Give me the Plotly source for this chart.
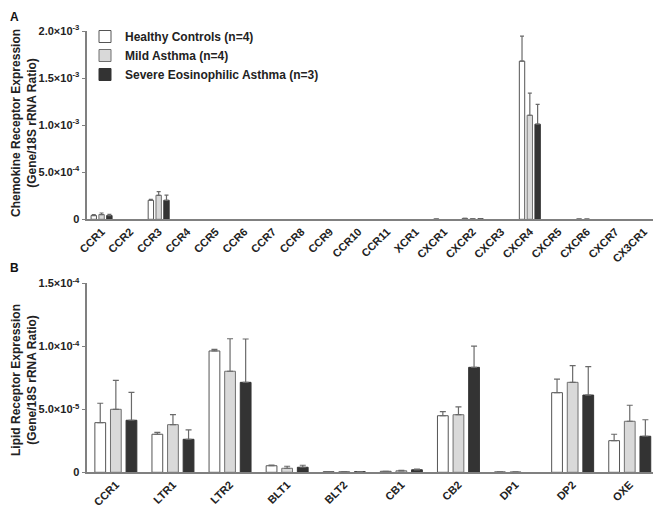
import plotly.graph_objects as go

# ---------------- data ----------------
groups = ["Healthy Controls (n=4)", "Mild Asthma (n=4)", "Severe Eosinophilic Asthma (n=3)"]

chemo_cats = ["CCR1", "CCR2", "CCR3", "CCR4", "CCR5", "CCR6", "CCR7", "CCR8", "CCR9", "CCR10",
              "CCR11", "XCR1", "CXCR1", "CXCR2", "CXCR3", "CXCR4", "CXCR5", "CXCR6", "CXCR7", "CX3CR1"]
chemo_healthy = [4.0e-5, 0, 2.02e-4, 0, 0, 0, 0, 0, 0, 0, 0, 0, 3e-6, 1.0e-5, 0, 1.68e-3, 0, 3e-6, 0, 0]
chemo_mild    = [5.0e-5, 0, 2.55e-4, 0, 0, 0, 0, 0, 0, 0, 0, 0, 0, 6e-6, 0, 1.105e-3, 0, 3e-6, 0, 0]
chemo_severe  = [4.0e-5, 0, 2.02e-4, 0, 0, 0, 0, 0, 0, 0, 0, 0, 0, 5e-6, 0, 1.01e-3, 0, 0, 0, 0]
chemo_healthy_err = [1.0e-5, 0, 1.0e-5, 0, 0, 0, 0, 0, 0, 0, 0, 0, 0, 0, 0, 2.65e-4, 0, 0, 0, 0]
chemo_mild_err    = [1.7e-5, 0, 4.0e-5, 0, 0, 0, 0, 0, 0, 0, 0, 0, 0, 0, 0, 2.35e-4, 0, 0, 0, 0]
chemo_severe_err  = [1.2e-5, 0, 5.5e-5, 0, 0, 0, 0, 0, 0, 0, 0, 0, 0, 0, 0, 2.1e-4, 0, 0, 0, 0]

lipid_cats = ["CCR1", "LTR1", "LTR2", "BLT1", "BLT2", "CB1", "CB2", "DP1", "DP2", "OXE"]
lipid_healthy = [3.94e-5, 3.02e-5, 9.63e-5, 0.52e-5, 0.05e-5, 0.08e-5, 4.49e-5, 0.03e-5, 6.32e-5, 2.51e-5]
lipid_mild    = [5.00e-5, 3.78e-5, 8.02e-5, 0.32e-5, 0.05e-5, 0.12e-5, 4.57e-5, 0.03e-5, 7.14e-5, 4.05e-5]
lipid_severe  = [4.13e-5, 2.62e-5, 7.14e-5, 0.40e-5, 0.05e-5, 0.20e-5, 8.33e-5, 0.0, 6.13e-5, 2.86e-5]
lipid_healthy_err = [1.54e-5, 0.15e-5, 0.13e-5, 0.05e-5, 0, 0, 0.32e-5, 0, 1.08e-5, 0.51e-5]
lipid_mild_err    = [2.30e-5, 0.80e-5, 2.58e-5, 0.16e-5, 0, 0.03e-5, 0.63e-5, 0, 1.32e-5, 1.27e-5]
lipid_severe_err  = [2.22e-5, 0.74e-5, 3.44e-5, 0.16e-5, 0, 0.05e-5, 1.69e-5, 0, 2.25e-5, 1.31e-5]

chemo_tickvals = [0, 5e-4, 1e-3, 1.5e-3, 2e-3]
chemo_ticktext = ["0", "5.0×10<sup>-4</sup>", "1.0×10<sup>-3</sup>", "1.5×10<sup>-3</sup>", "2.0×10<sup>-3</sup>"]
lipid_tickvals = [0, 5e-5, 1e-4, 1.5e-4]
lipid_ticktext = ["0", "5.0×10<sup>-5</sup>", "1.0×10<sup>-4</sup>", "1.5×10<sup>-4</sup>"]

# ---------------- styles ----------------
fills = ["#ffffff", "#d9d9d9", "#333333"]
outlines = ["#555555", "#707070", "#333333"]
errc = "#6a6a6a"
FONT = "Arial, Liberation Sans, sans-serif"
OFF = 8                      # page body margin in the browser
W, H = 661 - OFF, 512 - OFF


def px(x):
    return (x - OFF) / W


def py(y):
    return 1 - (y - OFF) / H


def nz(vals):
    return [v if v else None for v in vals]


fig = go.Figure()

chemo_vals = [chemo_healthy, chemo_mild, chemo_severe]
chemo_errs = [chemo_healthy_err, chemo_mild_err, chemo_severe_err]
lipid_vals = [lipid_healthy, lipid_mild, lipid_severe]
lipid_errs = [lipid_healthy_err, lipid_mild_err, lipid_severe_err]

for i, g in enumerate(groups):
    fig.add_trace(go.Bar(
        x=chemo_cats, y=nz(chemo_vals[i]), name=g, legendgroup=g, showlegend=True,
        marker=dict(color=fills[i], line=dict(color=outlines[i], width=1)),
        error_y=dict(type="data", symmetric=False, array=chemo_errs[i],
                     arrayminus=[0] * len(chemo_cats), color=errc, thickness=1.2, width=2),
        xaxis="x", yaxis="y"))
for i, g in enumerate(groups):
    fig.add_trace(go.Bar(
        x=lipid_cats, y=nz(lipid_vals[i]), name=g, legendgroup=g, showlegend=False,
        marker=dict(color=fills[i], line=dict(color=outlines[i], width=1)),
        error_y=dict(type="data", symmetric=False, array=lipid_errs[i],
                     arrayminus=[0] * len(lipid_cats), color=errc, thickness=1.2, width=3),
        xaxis="x2", yaxis="y2"))

tf = dict(family=FONT, size=11, color="#222222", weight="bold")
axis_common = dict(showline=True, linecolor="#808080", linewidth=1.5, showgrid=False,
                   zeroline=False, ticks="", tickangle=-45, automargin=False, tickfont=tf)
yaxis_common = dict(showline=True, linecolor="#808080", linewidth=1.5, showgrid=False,
                    zeroline=False, ticks="outside", ticklen=4, tickcolor="#808080", tickwidth=1.2,
                    automargin=False, tickfont=tf)

fig.update_layout(
    width=W, height=H,
    margin=dict(l=0, r=0, t=0, b=0, autoexpand=False),
    paper_bgcolor="white", plot_bgcolor="white",
    barmode="group", bargap=0.18, bargroupgap=0.31,
    font=dict(family=FONT, color="#222222"),
    xaxis=dict(domain=[px(87.3), px(658.3)], anchor="y", range=[-0.5, 19.5], **axis_common),
    yaxis=dict(domain=[py(219.3), py(31)], anchor="x", range=[0, 2e-3],
               tickvals=chemo_tickvals, ticktext=chemo_ticktext, **yaxis_common),
    xaxis2=dict(domain=[px(87.3), px(658.3)], anchor="y2", range=[-0.5, 9.5], **axis_common),
    yaxis2=dict(domain=[py(472.3), py(283.3)], anchor="x2", range=[0, 1.5e-4],
                tickvals=lipid_tickvals, ticktext=lipid_ticktext, **yaxis_common),
    legend=dict(x=px(85), y=py(22), xanchor="left", yanchor="top",
                bgcolor="rgba(0,0,0,0)",
                font=dict(family=FONT, size=12, color="#222222", weight="bold"),
                tracegroupgap=0),
    annotations=[
        dict(text="<b>A</b>", x=0, y=1, xref="paper", yref="paper",
             xanchor="left", yanchor="top", showarrow=False, font=dict(family=FONT, size=12, color="#111")),
        dict(text="<b>B</b>", x=0, y=py(268), xref="paper", yref="paper",
             xanchor="left", yanchor="middle", showarrow=False, font=dict(family=FONT, size=12, color="#111")),
        dict(text="<b>Chemokine Receptor Expression<br>(Gene/18S rRNA Ratio)</b>", x=px(24),
             y=py(123), xref="paper", yref="paper", textangle=-90, showarrow=False,
             xanchor="center", yanchor="middle", font=dict(family=FONT, size=12, color="#222222")),
        dict(text="<b>Lipid Receptor Expression<br>(Gene/18S rRNA Ratio)</b>", x=px(24),
             y=py(380), xref="paper", yref="paper", textangle=-90, showarrow=False,
             xanchor="center", yanchor="middle", font=dict(family=FONT, size=12, color="#222222")),
    ],
)

fig.write_html("out.html")
